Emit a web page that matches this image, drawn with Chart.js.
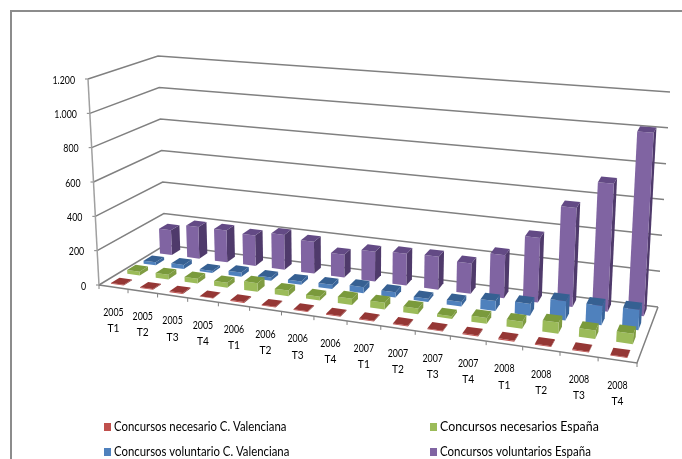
<!DOCTYPE html>
<html>
<head>
<meta charset="utf-8">
<title>Concursos</title>
<style>
    html, body { margin: 0; background: #fff; }
    #frame { position: absolute; left: 10px; top: 10px; width: 672px; height: 449px; border-left: 2px solid #8c8c8c; border-top: 2px solid #8c8c8c; box-sizing: border-box; }
    #myChart { position: absolute; left: 0; top: 0; }
</style>
<script src="https://cdn.jsdelivr.net/npm/chart.js@4"></script>
</head>
<body>
<div id="frame"></div>
<canvas id="myChart" width="682" height="459"></canvas>
<script>
const categories = [
    ['2005', 'T1'], ['2005', 'T2'], ['2005', 'T3'], ['2005', 'T4'],
    ['2006', 'T1'], ['2006', 'T2'], ['2006', 'T3'], ['2006', 'T4'],
    ['2007', 'T1'], ['2007', 'T2'], ['2007', 'T3'], ['2007', 'T4'],
    ['2008', 'T1'], ['2008', 'T2'], ['2008', 'T3'], ['2008', 'T4']
]
const necesarioCV = [5, 4, 6, 2, 5, 4, 5, 5, 5, 5, 4, 6, 6, 5, 4, 4]
const necesariosEsp = [22, 28, 28, 28, 50, 32, 22, 35, 38, 32, 15, 32, 38, 60, 45, 55]
const voluntarioCV = [18, 25, 12, 25, 20, 20, 25, 35, 30, 18, 25, 55, 65, 105, 105, 110]
const voluntariosEsp = [155, 195, 195, 185, 210, 190, 135, 175, 185, 190, 175, 245, 365, 555, 710, 1010]

// front / top / side shades per series, same order as the datasets
const shades = [
    ['#C0504D', '#953735', '#8E3A38'],
    ['#9BBB59', '#7A9A3C', '#7F9C42'],
    ['#4F81BD', '#366092', '#3A659A'],
    ['#8064A2', '#634A85', '#4F3A6B']
]

// Box of the 3D plot on the canvas: f = front, b = back, l/r = left/right, 0/1 = floor/top
const box = {
    fl0: [99, 285], fl1: [88, 79],
    bl0: [165, 245], bl1: [158, 56],
    br0: [658, 307], br1: [670, 92],
    fr0: [637, 363], fr1: [650, 129]
}
const xPerspective = 1.169
const rowDepth = 0.13

function mix(a, b, t) {
    return [a[0] + (b[0] - a[0]) * t, a[1] + (b[1] - a[1]) * t]
}

// u along the categories, d towards the back, h up the value axis, all 0..1
function project(u, d, h) {
    const t = u / (u + xPerspective * (1 - u))
    const front = mix(mix(box.fl0, box.fr0, t), mix(box.fl1, box.fr1, t), h)
    const back = mix(mix(box.bl0, box.br0, t), mix(box.bl1, box.br1, t), h)
    return mix(front, back, d)
}

function line(ctx, points, color, width) {
    ctx.strokeStyle = color
    ctx.lineWidth = width
    ctx.beginPath()
    points.forEach((p, i) => i ? ctx.lineTo(p[0], p[1]) : ctx.moveTo(p[0], p[1]))
    ctx.stroke()
}

function face(ctx, points, color) {
    ctx.fillStyle = color
    ctx.beginPath()
    points.forEach((p, i) => i ? ctx.lineTo(p[0], p[1]) : ctx.moveTo(p[0], p[1]))
    ctx.closePath()
    ctx.fill()
}

// Text squeezed horizontally, the labels here are narrow and tall
function label(ctx, text, x, y, align, size, squeeze) {
    ctx.save()
    ctx.translate(x, y)
    ctx.scale(squeeze, 1)
    ctx.font = size + 'px Lato'
    ctx.fillStyle = '#000'
    ctx.textAlign = align
    ctx.textBaseline = 'middle'
    ctx.fillText(text, 0, 0)
    ctx.restore()
}

function drawWalls(chart, ctx) {
    const yScale = chart.scales.y
    const toH = (v) => (yScale.bottom - yScale.getPixelForValue(v)) / (yScale.bottom - yScale.top)

    yScale.ticks.forEach((tick) => {
        const h = toH(tick.value)
        const start = project(0, 0, h)
        line(ctx, [start, project(0, 1, h), project(1, 1, h)], '#808080', 1.5)
        line(ctx, [[start[0] - 3, start[1]], start], '#808080', 1)
        label(ctx, tick.label, start[0] - 13, start[1] + 1, 'right', 11, 0.8)
    })

    line(ctx, [project(0, 0, 0), project(0, 0, 1)], '#a0a0a0', 1.5)
    line(ctx, [project(0, 0, 0), project(1, 0, 0), project(1, 1, 0)], '#808080', 1.5)

    const count = chart.data.labels.length
    for (let i = 0; i <= count; i++) {
        const p = project(i / count, 0, 0)
        line(ctx, [p, [p[0], p[1] + 4]], '#808080', 1)
    }
    chart.data.labels.forEach((lines, i) => {
        const p = project((i + 0.5) / count, 0, 0)
        label(ctx, lines[0], p[0], p[1] + 25, 'center', 11, 0.8)
        label(ctx, lines[1], p[0], p[1] + 41, 'center', 12, 0.85)
    })
}

function drawBars(chart, ctx) {
    const { left, right, top, bottom } = chart.chartArea
    const rows = chart.data.datasets.length

    // back row first so the nearer bars sit on top
    for (let r = rows - 1; r >= 0; r--) {
        const colors = shades[r]
        const d = (r + 0.5) / rows
        chart.getDatasetMeta(r).data.forEach((bar) => {
            const u0 = (bar.x - bar.width / 2 - left) / (right - left)
            const u1 = (bar.x + bar.width / 2 - left) / (right - left)
            const h = (bottom - bar.y) / (bottom - top)
            const d0 = d - rowDepth / 2
            const d1 = d + rowDepth / 2
            const a = project(u0, d0, 0), b = project(u1, d0, 0)
            const c = project(u1, d0, h), e = project(u0, d0, h)
            const f = project(u1, d1, 0), g = project(u1, d1, h), k = project(u0, d1, h)
            face(ctx, [b, f, g, c], colors[2])
            face(ctx, [a, b, c, e], colors[0])
            face(ctx, [e, c, g, k], colors[1])
        })
    }
}

function drawLegend(chart, ctx) {
    const slots = [[104, 427, 0.875], [430, 427, 0.95], [104, 452, 0.875], [430, 452, 0.885]]
    chart.data.datasets.forEach((ds, i) => {
        const [x, y, squeeze] = slots[i]
        ctx.fillStyle = ds.backgroundColor
        ctx.fillRect(x, y - 4, 7, 8)
        label(ctx, ds.label, x + 10, y, 'left', 13, squeeze)
    })
}

const perspectiveBars = {
    id: 'perspectiveBars',
    beforeDatasetsDraw(chart) {
        const ctx = chart.ctx
        drawWalls(chart, ctx)
        drawBars(chart, ctx)
        drawLegend(chart, ctx)
        return false
    }
}

const series = [
    { label: 'Concursos necesario C. Valenciana', data: necesarioCV, backgroundColor: shades[0][0] },
    { label: 'Concursos necesarios España', data: necesariosEsp, backgroundColor: shades[1][0] },
    { label: 'Concursos voluntario C. Valenciana', data: voluntarioCV, backgroundColor: shades[2][0] },
    { label: 'Concursos voluntarios España', data: voluntariosEsp, backgroundColor: shades[3][0] }
]

new Chart(document.getElementById('myChart'), {
    type: 'bar',
    data: { labels: categories, datasets: series },
    options: {
        responsive: false,
        animation: false,
        datasets: { bar: { grouped: false, categoryPercentage: 1, barPercentage: 0.44 } },
        plugins: { legend: { display: false }, tooltip: { enabled: false } },
        scales: {
            x: { display: false },
            y: {
                display: false,
                min: 0,
                max: 1200,
                ticks: {
                    stepSize: 200,
                    callback: (v) => String(v).replace(/\B(?=(\d{3})+$)/g, '.')
                }
            }
        }
    },
    plugins: [perspectiveBars]
})
</script>
</body>
</html>
